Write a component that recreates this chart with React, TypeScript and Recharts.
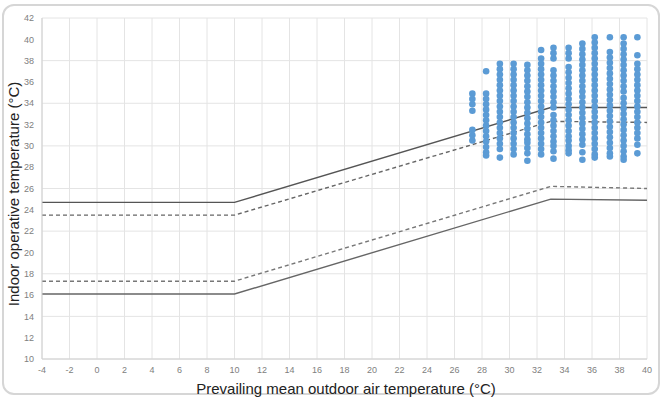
import React from 'react';
import {
  ComposedChart, Scatter, Line, XAxis, YAxis, CartesianGrid,
} from 'recharts';

// x position of each measurement column (prevailing mean outdoor temp)
const COL_X = [27.3, 28.3, 29.3, 30.3, 31.3, 32.3, 33.2, 34.3, 35.3, 36.2, 37.3, 38.3, 39.3];

// indoor operative temps
const COL_Y: number[][] = [
  [34.9, 34.4, 33.9, 33.3, 31.5, 31.0, 30.5],
  [37.0, 34.9, 34.4, 33.9, 33.4, 32.9, 32.4, 31.9, 31.4, 30.9, 30.4, 29.9, 29.4, 29.1],
  [37.7, 37.2, 36.7, 36.2, 35.7, 35.2, 34.7, 34.2, 33.7, 33.2, 32.7, 32.2, 31.7, 31.2, 30.7, 30.2, 29.7, 28.9],
  [37.7, 37.2, 36.7, 36.2, 35.7, 35.2, 34.7, 34.2, 33.7, 33.2, 32.7, 32.2, 31.7, 31.2, 30.7, 30.2, 29.7, 29.2],
  [37.6, 37.1, 36.6, 36.1, 35.6, 35.1, 34.6, 34.1, 33.6, 33.1, 32.6, 32.1, 31.6, 31.1, 30.6, 30.3, 29.8, 29.3, 28.6],
  [39.0, 38.2, 37.7, 37.2, 36.7, 36.2, 35.7, 35.2, 34.7, 34.2, 33.7, 33.2, 32.7, 32.2, 31.7, 31.2, 30.7, 30.2, 29.7, 29.2],
  [39.2, 38.7, 38.2, 37.1, 36.6, 36.1, 35.6, 35.1, 34.6, 34.1, 33.6, 32.9, 32.4, 31.9, 31.4, 30.9, 30.4, 30.0, 29.5, 28.8],
  [39.2, 38.7, 38.2, 37.4, 36.9, 36.4, 35.9, 35.4, 34.9, 34.4, 33.9, 33.4, 32.9, 32.4, 31.9, 31.4, 30.9, 30.5, 30.0, 29.6, 29.3],
  [39.6, 39.1, 38.6, 38.1, 37.6, 37.1, 36.6, 36.1, 35.6, 35.1, 34.6, 34.1, 33.6, 33.1, 32.6, 32.1, 31.6, 31.1, 30.6, 30.1, 29.4, 28.7],
  [40.2, 39.7, 39.2, 38.7, 38.2, 37.7, 37.2, 36.7, 36.2, 35.7, 35.2, 34.7, 34.2, 33.7, 33.2, 32.7, 32.2, 31.7, 31.2, 30.7, 30.2, 29.7, 29.2, 28.9],
  [40.2, 38.8, 38.3, 37.8, 37.3, 36.8, 36.3, 35.8, 35.3, 34.8, 34.3, 33.8, 33.3, 32.8, 32.3, 31.8, 31.3, 30.8, 30.3, 29.8, 29.3, 29.0],
  [40.2, 39.6, 39.1, 38.6, 38.1, 37.6, 37.1, 36.6, 36.1, 35.6, 35.1, 34.5, 34.0, 33.5, 33.0, 32.5, 32.0, 31.5, 31.0, 30.5, 30.0, 29.5, 29.0, 28.7],
  [40.2, 38.5, 37.7, 37.2, 36.7, 36.2, 35.7, 35.2, 34.7, 34.2, 33.7, 33.2, 32.7, 32.2, 31.7, 31.2, 30.7, 30.1, 29.3],
];

// comfort band limits: breakpoints on x
const LIMIT_X = [-4, 10, 33, 40];
const UPPER_SOLID = [24.7, 24.7, 33.6, 33.6];
const UPPER_DASHED = [23.5, 23.5, 32.3, 32.2];
const LOWER_DASHED = [17.3, 17.3, 26.2, 26.0];
const LOWER_SOLID = [16.1, 16.1, 25.0, 24.9];

const X_TICKS = [-4, -2, 0, 2, 4, 6, 8, 10, 12, 14, 16, 18, 20, 22, 24, 26, 28, 30, 32, 34, 36, 38, 40];
const Y_TICKS = [10, 12, 14, 16, 18, 20, 22, 24, 26, 28, 30, 32, 34, 36, 38, 40, 42];

const points = COL_X.flatMap((x, i) => COL_Y[i].map(y => ({ x, y })));
const toLine = (ys: number[]) => LIMIT_X.map((x, i) => ({ x, y: ys[i] }));

const font = '"Liberation Sans", Arial, sans-serif';
const tick = { fill: '#808080', fontSize: 9, fontFamily: font };

const Dot = (p: any) => <circle cx={p.cx} cy={p.cy} r={3.3} fill="#5B9BD5" />;

export default function App() {
  return (
    <div style={{ position: 'absolute', left: 0, top: 0, width: 665, height: 399, background: '#fff', fontFamily: font }}>
      <div style={{
        position: 'absolute', left: 2, top: 4, width: 654, height: 387,
        border: '2px solid #d6d6d6', borderRadius: 12,
      }} />
      <ComposedChart
        width={665} height={399}
        margin={{ top: 18, right: 18, left: 0, bottom: 12 }}
        style={{ position: 'absolute', left: 0, top: 0 }}
      >
        <CartesianGrid stroke="#e4e4e4" />
        <XAxis
          type="number" dataKey="x" domain={[-4, 40]} ticks={X_TICKS}
          tick={tick} tickLine={false} axisLine={{ stroke: '#d0d0d0' }} height={28}
          allowDataOverflow
        />
        <YAxis
          type="number" dataKey="y" domain={[10, 42]} ticks={Y_TICKS}
          tick={tick} tickLine={false} axisLine={{ stroke: '#d0d0d0' }} width={42}
          allowDataOverflow
        />
        <Scatter data={points} shape={Dot} isAnimationActive={false} />
        <Line data={toLine(LOWER_SOLID)} dataKey="y" stroke="#666" strokeWidth={1.4} dot={false} isAnimationActive={false} />
        <Line data={toLine(LOWER_DASHED)} dataKey="y" stroke="#777" strokeWidth={1.4} strokeDasharray="4 3" dot={false} isAnimationActive={false} />
        <Line data={toLine(UPPER_DASHED)} dataKey="y" stroke="#666" strokeWidth={1.4} strokeDasharray="4 3" dot={false} isAnimationActive={false} />
        <Line data={toLine(UPPER_SOLID)} dataKey="y" stroke="#555" strokeWidth={1.4} dot={false} isAnimationActive={false} />
      </ComposedChart>
      <div style={{
        position: 'absolute', left: 13, top: 194, transform: 'translate(-50%, -50%) rotate(-90deg)',
        whiteSpace: 'nowrap', fontSize: 15, color: '#222',
      }}>
        Indoor operative temperature (°C)
      </div>
      <div style={{
        position: 'absolute', left: 346, top: 388, transform: 'translate(-50%, -50%)',
        whiteSpace: 'nowrap', fontSize: 15, color: '#222',
      }}>
        Prevailing mean outdoor air temperature (°C)
      </div>
    </div>
  );
}
